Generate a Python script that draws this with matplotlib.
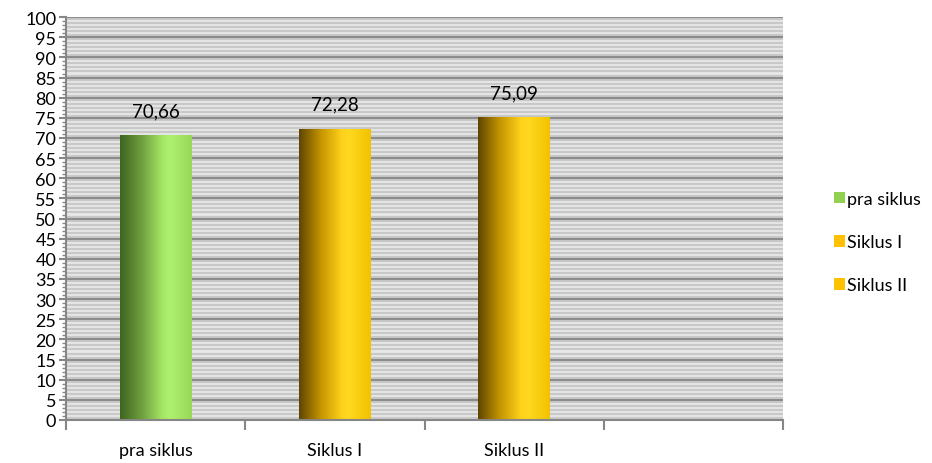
import numpy as np
import matplotlib.pyplot as plt
from matplotlib.colors import LinearSegmentedColormap
from matplotlib.patches import Patch

plt.rcParams['font.family'] = ['Lato', 'DejaVu Sans']

# chart data
categories = ['pra siklus', 'Siklus I', 'Siklus II', '']
series = ['pra siklus', 'Siklus I', 'Siklus II']
values = [70.66, 72.28, 75.09]
labels = ['70,66', '72,28', '75,09']
colors = ['#92d050', '#ffc000', '#ffc000']

# cylinder-like shading, dark left -> bright -> slightly dimmer right
shades = {
    '#92d050': ['#3f6420', '#6f9e3e', '#a6e866', '#aef070', '#98d858'],
    '#ffc000': ['#5e4500', '#c49400', '#ffd21a', '#ffd820', '#f2c200'],
}

fig = plt.figure(figsize=(9.32, 4.64), dpi=100)
ax = fig.add_axes([0.0708, 0.0927, 0.7695, 0.8683])

# striped background
ax.set_facecolor('#e8e8e8')
for y in np.arange(0.5, 100, 1.0):
    ax.axhline(y, color='#c8c8c8', lw=1.6, zorder=0.5)
for y in range(5, 101, 5):
    ax.axhline(y, color='#8c8c8c', lw=1.5, zorder=0.6)

grad_x = np.linspace(0, 1, 256).reshape(1, -1)
bars = ax.bar(range(len(values)), values, width=0.40, color='none', zorder=2)
for bar, c, v, lab in zip(bars, colors, values, labels):
    cmap = LinearSegmentedColormap.from_list(
        'shade', list(zip([0, 0.3, 0.6, 0.7, 1.0], shades[c])))
    x0 = bar.get_x()
    w = bar.get_width()
    im = ax.imshow(grad_x, cmap=cmap, aspect='auto',
                   extent=(x0, x0 + w, 0, v), zorder=2)
    im.set_clip_path(bar)
    ax.text(x0 + w / 2, v + 4, lab, ha='center', va='bottom',
            fontsize=13.5, color='#000000', zorder=3)

ax.set_xlim(-0.5, len(categories) - 0.5)
ax.set_ylim(0, 100)

# axes styling
for s in ['top', 'right']:
    ax.spines[s].set_visible(False)
for s in ['left', 'bottom']:
    ax.spines[s].set_color('#868686')
    ax.spines[s].set_linewidth(1.5)

ax.set_yticks(range(0, 101, 5))
ax.set_yticks(np.arange(0, 100, 1), minor=True)
ax.tick_params(axis='y', which='major', length=5, width=1.5, color='#868686',
               labelsize=13, pad=2)
ax.tick_params(axis='y', which='minor', length=3, width=1, color='#868686')

ax.set_xticks(np.arange(-0.5, len(categories), 1.0))
ax.set_xticklabels([])
ax.set_xticks(range(len(categories)), minor=True)
ax.set_xticklabels(categories, minor=True)
ax.tick_params(axis='x', which='major', length=7, width=1.5, color='#868686')
ax.tick_params(axis='x', which='minor', length=0, labelsize=13, pad=16)

handles = [Patch(facecolor=c, edgecolor='none') for c in colors]
fig.legend(handles, series, loc='center left', bbox_to_anchor=(0.885, 0.476),
           frameon=False, fontsize=13, handlelength=0.6, handleheight=0.6,
           handletextpad=0.15, labelspacing=1.5, borderpad=0)

fig.savefig('out.png', dpi=100)
